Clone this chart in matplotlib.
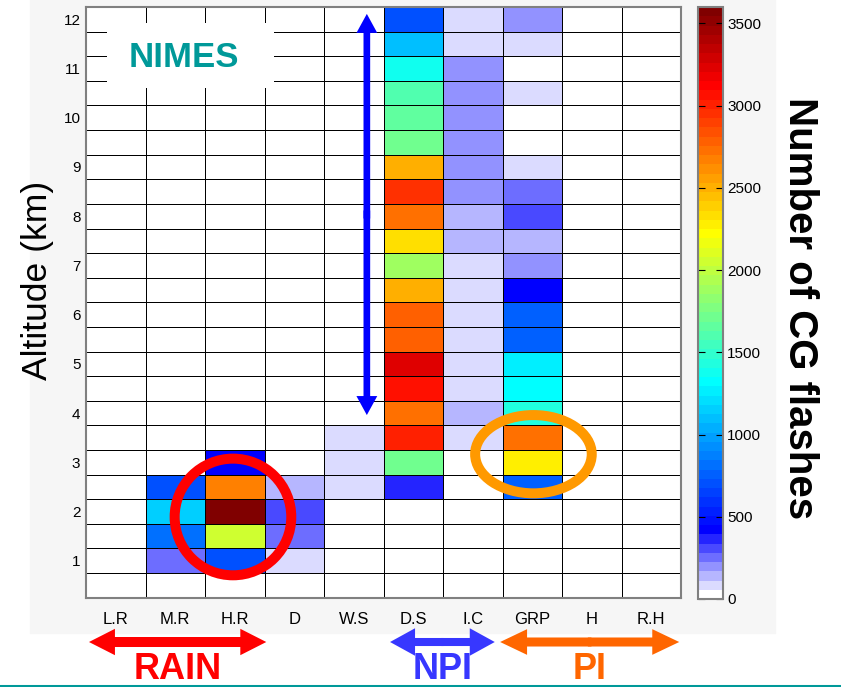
import numpy as np
import matplotlib.pyplot as plt
import matplotlib.transforms as mtransforms
from matplotlib.colors import ListedColormap, Normalize
from matplotlib.patches import Ellipse, Rectangle, FancyArrowPatch
from matplotlib.lines import Line2D

plt.rcParams['font.family'] = ['Liberation Sans', 'DejaVu Sans']

# hydrometeor classes (columns) and altitude bins (km, bin centres)
categories = ['L.R', 'M.R', 'H.R', 'D', 'W.S', 'D.S', 'I.C', 'GRP', 'H', 'R.H']
altitudes = [0.5, 1.0, 1.5, 2.0, 2.5, 3.0, 3.5, 4.0, 4.5, 5.0, 5.5, 6.0,
             6.5, 7.0, 7.5, 8.0, 8.5, 9.0, 9.5, 10.0, 10.5, 11.0, 11.5, 12.0]

# number of CG flashes per class, listed from 0.5 km up to 12 km
lr  = [0, 0, 0, 0, 0, 0, 0, 0, 0, 0, 0, 0, 0, 0, 0, 0, 0, 0, 0, 0, 0, 0, 0, 0]
mr  = [0, 250, 820, 1150, 700, 0, 0, 0, 0, 0, 0, 0, 0, 0, 0, 0, 0, 0, 0, 0, 0, 0, 0, 0]
hr  = [0, 700, 2050, 3600, 2670, 440, 0, 0, 0, 0, 0, 0, 0, 0, 0, 0, 0, 0, 0, 0, 0, 0, 0, 0]
dd  = [0, 80, 250, 310, 140, 0, 0, 0, 0, 0, 0, 0, 0, 0, 0, 0, 0, 0, 0, 0, 0, 0, 0, 0]
ws  = [0, 0, 0, 0, 80, 80, 80, 0, 0, 0, 0, 0, 0, 0, 0, 0, 0, 0, 0, 0, 0, 0, 0, 0]
ds  = [0, 0, 0, 0, 365, 1720, 3010, 2730, 3060, 3230, 2780, 2780,
       2500, 1890, 2330, 2730, 2950, 2500, 1720, 1660, 1600, 1380, 1100, 700]
ic  = [0, 0, 0, 0, 0, 0, 80, 140, 80, 80, 80, 80,
       80, 80, 140, 140, 200, 200, 200, 200, 200, 200, 80, 80]
grp = [0, 0, 0, 0, 760, 2280, 2730, 1430, 1320, 1265, 760, 760,
       420, 200, 140, 310, 250, 80, 0, 0, 80, 0, 80, 200]
hh  = [0, 0, 0, 0, 0, 0, 0, 0, 0, 0, 0, 0, 0, 0, 0, 0, 0, 0, 0, 0, 0, 0, 0, 0]
rh  = [0, 0, 0, 0, 0, 0, 0, 0, 0, 0, 0, 0, 0, 0, 0, 0, 0, 0, 0, 0, 0, 0, 0, 0]

cbar_ticks = [0, 500, 1000, 1500, 2000, 2500, 3000, 3500]
vmax = 3600


def matlab_jet(m=64):
    n = m // 4
    u = np.concatenate([np.arange(1, n + 1) / n, np.ones(n - 1), np.arange(n, 0, -1) / n])
    cmap = np.zeros((m, 3))
    g0 = n // 2
    for i, val in enumerate(u):
        r, g, b = g0 + n + i, g0 + i, g0 - n + i
        if 0 <= r < m:
            cmap[r, 0] = val
        if 0 <= g < m:
            cmap[g, 1] = val
        if 0 <= b < m:
            cmap[b, 2] = val
    return cmap


# jet, with the dark blue bottom replaced by a white -> blue ramp
colors = matlab_jet(64)
for k in range(7):
    c = 1 - k / 7
    colors[k] = [c, c, 1]
cmap = ListedColormap(colors)

W, H = 841, 687


def box(x0, y0, x1, y1):
    return [x0 / W, 1 - y1 / H, (x1 - x0) / W, (y1 - y0) / H]


fig = plt.figure(figsize=(W / 100, H / 100), dpi=100)
fig.patches.append(Rectangle((30 / W, 1 - 633 / H), (775 - 30) / W, 633 / H,
                             transform=fig.transFigure, color='#f6f6f6', zorder=-10))

ax = fig.add_axes(box(86, 7, 681, 597.7))
Z = np.array([lr, mr, hr, dd, ws, ds, ic, grp, hh, rh]).T
x_edges = np.arange(len(categories) + 1)
alt = np.array(altitudes)
y_edges = np.append(alt - 0.25, alt[-1] + 0.25)
mesh = ax.pcolormesh(x_edges, y_edges, Z, cmap=cmap, norm=Normalize(0, vmax),
                     edgecolors='black', linewidth=0.6)
ax.set_xlim(0, len(categories))
ax.set_ylim(y_edges[0], y_edges[-1])
ax.set_xticks(np.arange(len(categories)) + 0.5, categories)
ax.set_yticks(range(1, 13))
ax.tick_params(length=0, labelsize=11)
ax.tick_params(axis='x', pad=10, labelsize=12)
ax.tick_params(axis='y', pad=4)
for sp in ax.spines.values():
    sp.set_edgecolor('#808080')
    sp.set_linewidth(1.5)

# site label
ax.add_patch(Rectangle((0.35, 10.60), 2.81, 1.32, facecolor='white', edgecolor='none', zorder=3))
ax.text(1.65, 11.23, 'NIMES', color='#009999', fontsize=25, fontweight='bold',
        ha='center', va='center', zorder=4)


def double_arrow(x0, y0, x1, y1, color, shaft, head_w, head_l, transform):
    xm, ym = (x0 + x1) / 2, (y0 + y1) / 2
    style = f'simple,tail_width={shaft},head_width={head_w},head_length={head_l}'
    for (xa, ya), (xo, yo) in [((x0, y0), (x1, y1)), ((x1, y1), (x0, y0))]:
        start = (xm + 0.02 * (xo - xm), ym + 0.02 * (yo - ym))
        ax.add_patch(FancyArrowPatch(start, (xa, ya), arrowstyle=style, mutation_scale=1,
                                     color=color, lw=0, transform=transform,
                                     clip_on=False, shrinkA=0, shrinkB=0, zorder=6))


# vertical extent of the dry snow layer
double_arrow(4.72, 12.11, 4.72, 3.96, '#0000ff', 4.8, 15.0, 13.7, ax.transData)

# highlighted maxima
ax.add_patch(Ellipse((2.47, 1.89), 1.96, 2.37, fill=False, edgecolor='#ff0000',
                     lw=7.2, zorder=6, clip_on=False))
ax.add_patch(Ellipse((7.52, 3.165), 1.96, 1.59, fill=False, edgecolor='#ff9900',
                     lw=7.2, zorder=6, clip_on=False))

# class groups under the x axis
trans = mtransforms.blended_transform_factory(ax.transData, ax.transAxes)
groups = [('RAIN', 0.05, 3.03, '#ff0000', 7.2, 19.0, 18.7),
          ('NPI', 5.11, 6.87, '#3737ff', 5.8, 19.8, 18.0),
          ('PI', 6.96, 9.97, '#ff6600', 6.5, 18.5, 19.4)]
for name, xa, xb, col, sw, hw, hl in groups:
    double_arrow(xa, -0.075, xb, -0.075, col, sw, hw, hl, trans)
    ax.text((xa + xb) / 2, -0.1375, name, transform=trans, color=col, fontsize=26,
            fontweight='bold', ha='center', va='baseline',
            family=['Liberation Sans Narrow', 'Liberation Sans'])

fig.text(38 / W, 1 - 280 / H, 'Altitude (km)', rotation=90, fontsize=25.5,
         ha='center', va='center')

cax = fig.add_axes(box(698, 7, 723, 599))
cbar = fig.colorbar(mesh, cax=cax, ticks=cbar_ticks)
cbar.outline.set_edgecolor('#808080')
cbar.outline.set_linewidth(1.5)
cax.tick_params(direction='in', left=True, right=True, length=5, width=0.8,
                labelsize=11, pad=3)
fig.text(800 / W, 1 - 308 / H, 'Number of CG flashes', rotation=270, fontsize=29,
         fontweight='bold', ha='center', va='center')

fig.add_artist(Line2D([0, 1], [1 - 685.5 / H, 1 - 685.5 / H], transform=fig.transFigure,
                      color='#009999', lw=2.2))

fig.savefig('out.png', dpi=100)
